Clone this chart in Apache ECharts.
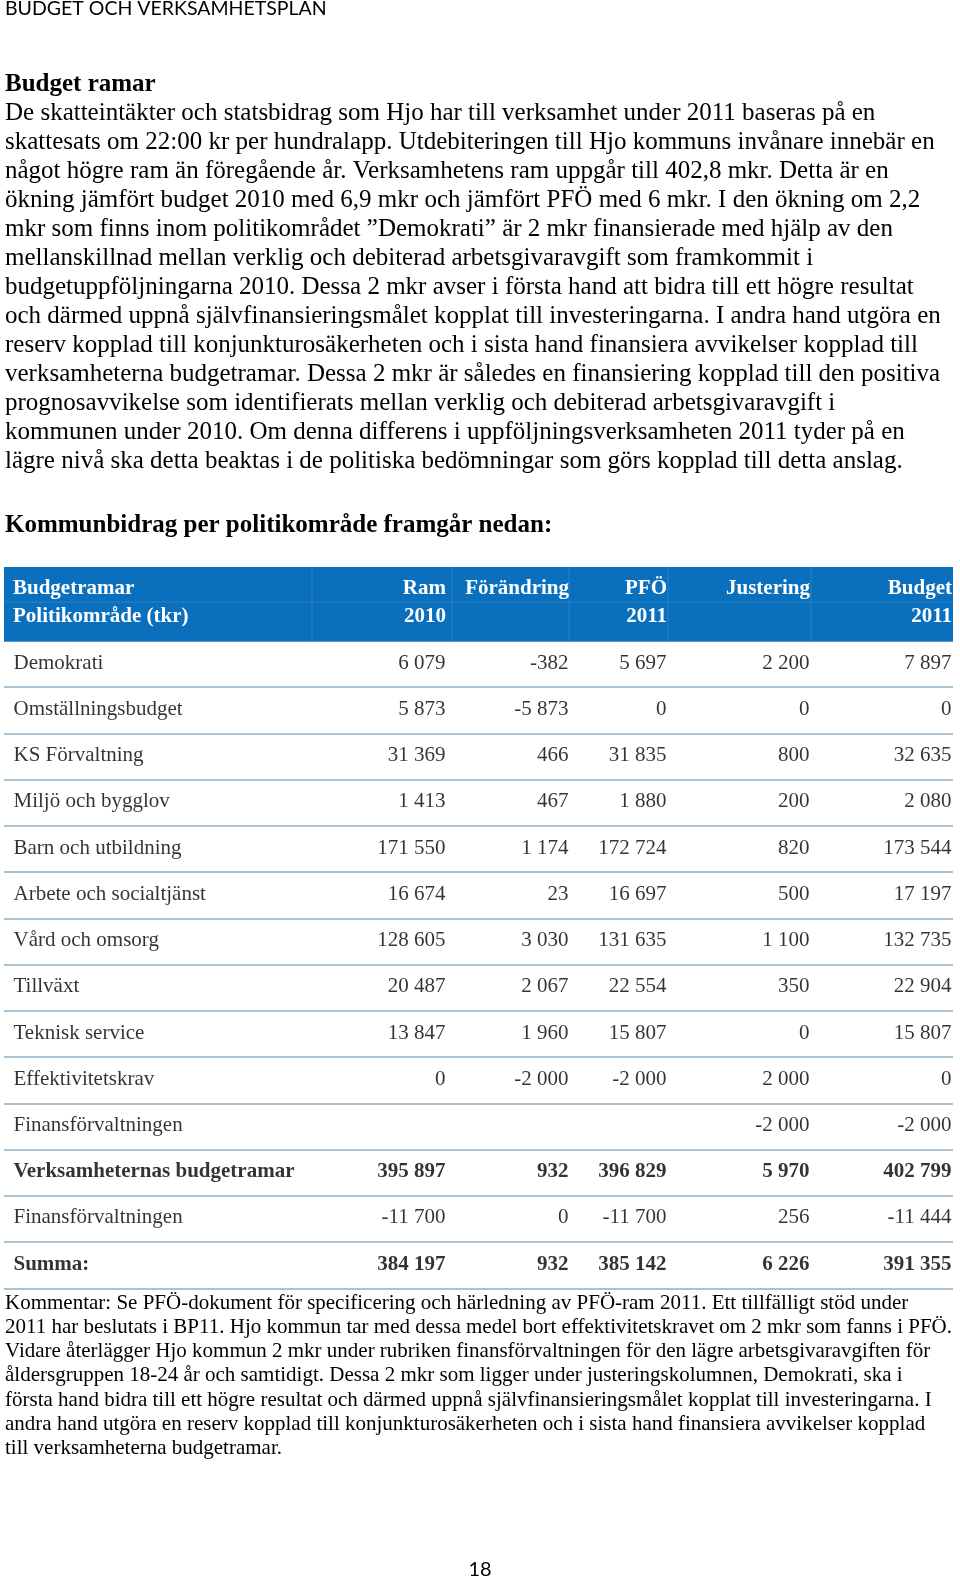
<!DOCTYPE html>
<html><head><meta charset="utf-8">
<script src="https://cdn.jsdelivr.net/npm/echarts@6/dist/echarts.min.js"></script>
<style>html,body{margin:0;padding:0;background:#fff}#c{width:960px;height:1580px}</style>
</head><body><div id="c"></div>
<script>
// ---- data ----
const rowNames = ['Demokrati','Omställningsbudget','KS Förvaltning','Miljö och bygglov','Barn och utbildning','Arbete och socialtjänst','Vård och omsorg','Tillväxt','Teknisk service','Effektivitetskrav','Finansförvaltningen','Verksamheternas budgetramar','Finansförvaltningen','Summa:'];
const ram2010    = [6079, 5873, 31369, 1413, 171550, 16674, 128605, 20487, 13847, 0, null, 395897, -11700, 384197];
const forandring = [-382, -5873, 466, 467, 1174, 23, 3030, 2067, 1960, -2000, null, 932, 0, 932];
const pfo2011    = [5697, 0, 31835, 1880, 172724, 16697, 131635, 22554, 15807, -2000, null, 396829, -11700, 385142];
const justering  = [2200, 0, 800, 200, 820, 500, 1100, 350, 0, 2000, -2000, 5970, 256, 6226];
const budget2011 = [7897, 0, 32635, 2080, 173544, 17197, 132735, 22904, 15807, 0, -2000, 402799, -11444, 391355];
const headerTop    = ['Budgetramar','Ram','Förändring','PFÖ','Justering','Budget'];
const headerBottom = ['Politikområde (tkr)','2010','','2011','','2011'];
const boldRows = [11, 13];

const pageHeader = 'BUDGET OCH VERKSAMHETSPLAN';
const title1 = 'Budget ramar';
const introLines = [
'De skatteintäkter och statsbidrag som Hjo har till verksamhet under 2011 baseras på en',
'skattesats om 22:00 kr per hundralapp. Utdebiteringen till Hjo kommuns invånare innebär en',
'något högre ram än föregående år. Verksamhetens ram uppgår till 402,8 mkr. Detta är en',
'ökning jämfört budget 2010 med 6,9 mkr och jämfört PFÖ med 6 mkr. I den ökning om 2,2',
'mkr som finns inom politikområdet ”Demokrati” är 2 mkr finansierade med hjälp av den',
'mellanskillnad mellan verklig och debiterad arbetsgivaravgift som framkommit i',
'budgetuppföljningarna 2010. Dessa 2 mkr avser i första hand att bidra till ett högre resultat',
'och därmed uppnå självfinansieringsmålet kopplat till investeringarna. I andra hand utgöra en',
'reserv kopplad till konjunkturosäkerheten och i sista hand finansiera avvikelser kopplad till',
'verksamheterna budgetramar. Dessa 2 mkr är således en finansiering kopplad till den positiva',
'prognosavvikelse som identifierats mellan verklig och debiterad arbetsgivaravgift i',
'kommunen under 2010. Om denna differens i uppföljningsverksamheten 2011 tyder på en',
'lägre nivå ska detta beaktas i de politiska bedömningar som görs kopplad till detta anslag.'
];
const title2 = 'Kommunbidrag per politikområde framgår nedan:';
const commentLines = [
'Kommentar: Se PFÖ-dokument för specificering och härledning av PFÖ-ram 2011. Ett tillfälligt stöd under',
'2011 har beslutats i BP11. Hjo kommun tar med dessa medel bort effektivitetskravet om 2 mkr som fanns i PFÖ.',
'Vidare återlägger Hjo kommun 2 mkr under rubriken finansförvaltningen för den lägre arbetsgivaravgiften för',
'åldersgruppen 18-24 år och samtidigt. Dessa 2 mkr som ligger under justeringskolumnen, Demokrati, ska i',
'första hand bidra till ett högre resultat och därmed uppnå självfinansieringsmålet kopplat till investeringarna. I',
'andra hand utgöra en reserv kopplad till konjunkturosäkerheten och i sista hand finansiera avvikelser kopplad',
'till verksamheterna budgetramar.'
];
const pageNumber = '18';

// ---- layout ----
const SERIF = '"Liberation Serif", "Times New Roman", serif';
const SANS = 'Lato, "Liberation Sans", sans-serif';
const colRight = [446, 569, 667, 810, 952];
const nameX = 13;
const columns = [ram2010, forandring, pfo2011, justering, budget2011];

function fmt(v){
  const s = Math.abs(v).toString().replace(/\B(?=(\d{3})+(?!\d))/g, ' ');
  return (v < 0 ? '-' : '') + s;
}

const labelBase = {show:true, fontFamily:SERIF, fontSize:21, color:'#000', distance:0, offset:[0,-1]};

const series = [];
series.push({
  type:'scatter', silent:true, symbolSize:1, itemStyle:{color:'rgba(0,0,0,0)'},
  data: rowNames.map((n,i)=>({value:[nameX,i], name:n, label:{fontWeight: boldRows.includes(i)?'bold':'normal'}})),
  label: Object.assign({}, labelBase, {position:'right', formatter:p=>p.name})
});
columns.forEach((vals,c)=>{
  const data = [];
  vals.forEach((v,i)=>{ if(v!==null) data.push({value:[colRight[c], i, v], label:{fontWeight: boldRows.includes(i)?'bold':'normal'}}); });
  series.push({
    type:'scatter', silent:true, symbolSize:1, itemStyle:{color:'rgba(0,0,0,0)'},
    data, label: Object.assign({}, labelBase, {position:'left', formatter:p=>fmt(p.value[2])})
  });
});

// ---- graphics ----
const g = [];
function txt(text, x, y, font, opts){
  g.push({type:'text', z:10, silent:true, style:Object.assign({text, x, y, font, fill:'#000', align:'left', verticalAlign:'middle'}, opts||{})});
}
txt(pageHeader, 5, 9, '19.5px ' + SANS);
txt(title1, 5, 85, 'bold 25px ' + SERIF);
introLines.forEach((l,i)=> txt(l, 5, 113.8 + i*28.96, '25px ' + SERIF));
txt(title2, 5, 526, 'bold 25px ' + SERIF);
commentLines.forEach((l,i)=> txt(l, 5, 1303.4 + i*24.18, '21px ' + SERIF));
g.push({type:'text', z:10, silent:true, style:{text:pageNumber, x:480, y:1570, font:'20px ' + SANS, fill:'#000', align:'center', verticalAlign:'middle'}});

// table header band
g.push({type:'rect', z:5, silent:true, shape:{x:4, y:567, width:949, height:74.5}, style:{fill:'#0a70bd'}});
[312, 452, 569, 668, 811].forEach(x=> g.push({type:'line', z:6, silent:true, shape:{x1:x, y1:567, x2:x, y2:641}, style:{stroke:'#2a80c4', lineWidth:1}}));
g.push({type:'line', z:6, silent:true, shape:{x1:4, y1:602, x2:953, y2:602}, style:{stroke:'#2a80c4', lineWidth:1}});
const hdrFont = 'bold 21px ' + SERIF;
headerTop.forEach((t,i)=>{
  if(i===0) txt(t, nameX, 589, hdrFont, {fill:'#fff'});
  else txt(t, colRight[i-1], 589, hdrFont, {fill:'#fff', align:'right'});
});
headerBottom.forEach((t,i)=>{
  if(!t) return;
  if(i===0) txt(t, nameX, 617, hdrFont, {fill:'#fff'});
  else txt(t, colRight[i-1], 617, hdrFont, {fill:'#fff', align:'right'});
});

const chart = echarts.init(document.getElementById('c'), null, {renderer:'canvas'});
chart.setOption({
  animation:false,
  backgroundColor:'#fff',
  grid:{left:4, right:7, top:641, bottom:291.7, containLabel:false},
  xAxis:{type:'value', min:4, max:953, show:false},
  yAxis:{type:'category', inverse:true, data:rowNames.map((_,i)=>String(i)),
    axisLine:{show:false}, axisTick:{show:false}, axisLabel:{show:false},
    splitLine:{show:true, lineStyle:{color:'#a9c3d3', width:2}}},
  series,
  graphic:g
});
</script></body></html>
